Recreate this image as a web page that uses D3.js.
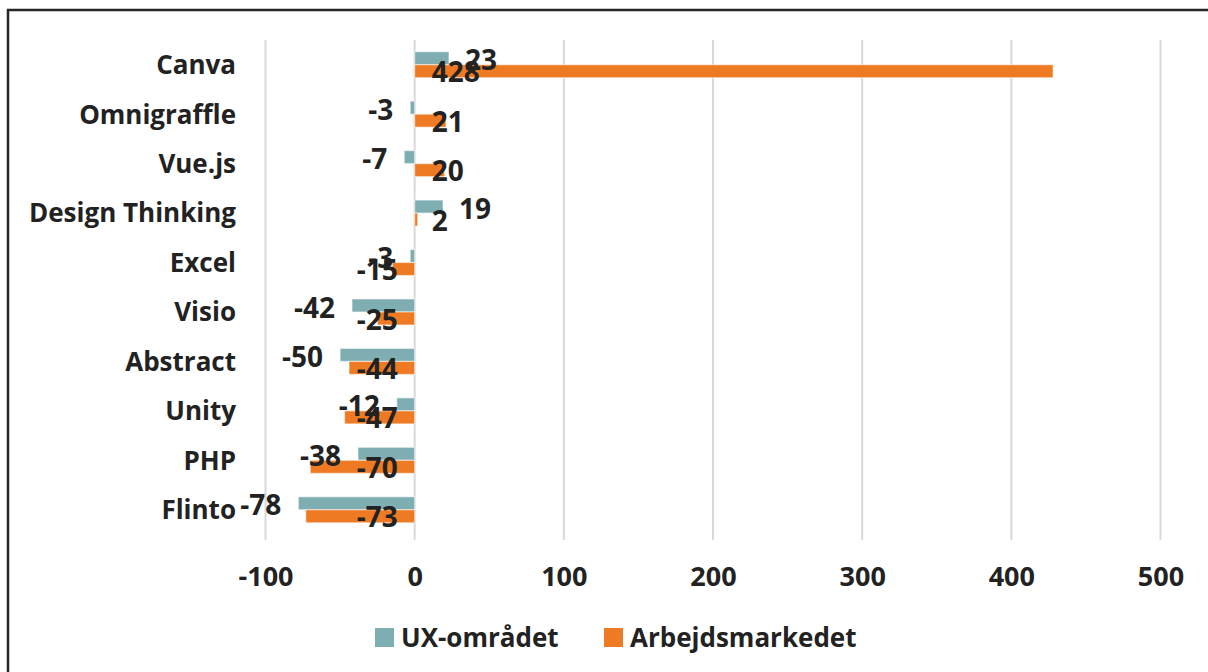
<!DOCTYPE html>
<html><head><meta charset="utf-8">
<script src="https://cdn.jsdelivr.net/npm/d3@7/dist/d3.min.js"></script>
<style>
html,body{margin:0;padding:0;background:#fff;}
svg{display:block;font-family:"Open Sans",Lato,sans-serif;font-weight:bold;}
</style></head>
<body><svg id="c" width="1208" height="672"></svg>
<script>
const categories = ["Canva","Omnigraffle","Vue.js","Design Thinking","Excel","Visio","Abstract","Unity","PHP","Flinto"];
const uxValues = [23,-3,-7,19,-3,-42,-50,-12,-38,-78];
const marketValues = [428,21,20,2,-15,-25,-44,-47,-70,-73];
const seriesNames = ["UX-området","Arbejdsmarkedet"];
const seriesColors = ["#7FAEB2","#EE7A24"];
const xTicks = [-100,0,100,200,300,400,500];

const svg = d3.select("#c");
// frame
svg.append("rect").attr("x",8).attr("y",10).attr("width",1220).attr("height",680)
  .attr("fill","none").attr("stroke","#262626").attr("stroke-width",2.5);

const x = d3.scaleLinear().domain([-100,500]).range([265.5,1160.5]);
const y = d3.scaleBand().domain(categories).range([40,534.5]).padding(0);
const barH = 13;

// gridlines
svg.append("g").selectAll("line").data(xTicks).join("line")
  .attr("x1",d=>x(d)).attr("x2",d=>x(d)).attr("y1",40).attr("y2",540)
  .attr("stroke","#d9d9d9").attr("stroke-width",2);

// x axis labels
const ax = svg.append("g").attr("transform","translate(0,576)")
  .call(d3.axisBottom(x).tickValues(xTicks).tickSize(0).tickPadding(0).tickFormat(d=>String(d)));
ax.select(".domain").remove();
ax.selectAll("text").attr("font-size",27).attr("font-weight","bold").attr("fill","#222")
  .attr("font-family","Open Sans").attr("dy","0.36em").attr("y",0);

// category labels
svg.append("g").selectAll("text").data(categories).join("text")
  .attr("x",236).attr("y",d=>y(d)+y.bandwidth()/2).attr("dy","0.36em")
  .attr("text-anchor","end").attr("font-size",26).attr("fill","#222").text(d=>d);

const rows = categories.map((c,i)=>({c, ux:uxValues[i], mk:marketValues[i]}));

// bars
const bars = svg.append("g");
bars.selectAll("rect.ux").data(rows).join("rect").attr("class","ux")
  .attr("x",d=>x(Math.min(0,d.ux))).attr("width",d=>Math.abs(x(d.ux)-x(0)))
  .attr("y",d=>y(d.c)+y.bandwidth()/2-barH).attr("height",barH)
  .attr("fill",seriesColors[0]).attr("stroke","#fff").attr("stroke-opacity",0.5).attr("stroke-width",1.2);
bars.selectAll("rect.mk").data(rows).join("rect").attr("class","mk")
  .attr("x",d=>x(Math.min(0,d.mk))).attr("width",d=>Math.abs(x(d.mk)-x(0)))
  .attr("y",d=>y(d.c)+y.bandwidth()/2).attr("height",barH)
  .attr("fill",seriesColors[1]).attr("stroke","#fff").attr("stroke-opacity",0.5).attr("stroke-width",1.2);

// labels
const lab = svg.append("g").attr("font-size",28).attr("fill","#222");
lab.selectAll("text.ux").data(rows).join("text").attr("class","ux")
  .attr("x",d=>d.ux>=0? x(d.ux)+16 : x(d.ux)-17)
  .attr("text-anchor",d=>d.ux>=0?"start":"end")
  .attr("y",d=>y(d.c)+y.bandwidth()/2-4.5).attr("dy","0.36em").text(d=>d.ux);
lab.selectAll("text.mk").data(rows).join("text").attr("class","mk")
  .attr("x",d=>d.mk>=0? x(0)+17 : x(0)-17)
  .attr("text-anchor",d=>d.mk>=0?"start":"end")
  .attr("y",d=>y(d.c)+y.bandwidth()/2+7.5).attr("dy","0.36em").text(d=>d.mk);

// legend
const leg = svg.append("g");
const legX = [375,604];
seriesNames.forEach((n,i)=>{
  leg.append("rect").attr("x",legX[i]).attr("y",628).attr("width",19).attr("height",19).attr("fill",seriesColors[i]);
  leg.append("text").attr("x",legX[i]+26).attr("y",638).attr("dy","0.36em")
    .attr("font-size",26).attr("fill","#222").text(n);
});
</script></body></html>
